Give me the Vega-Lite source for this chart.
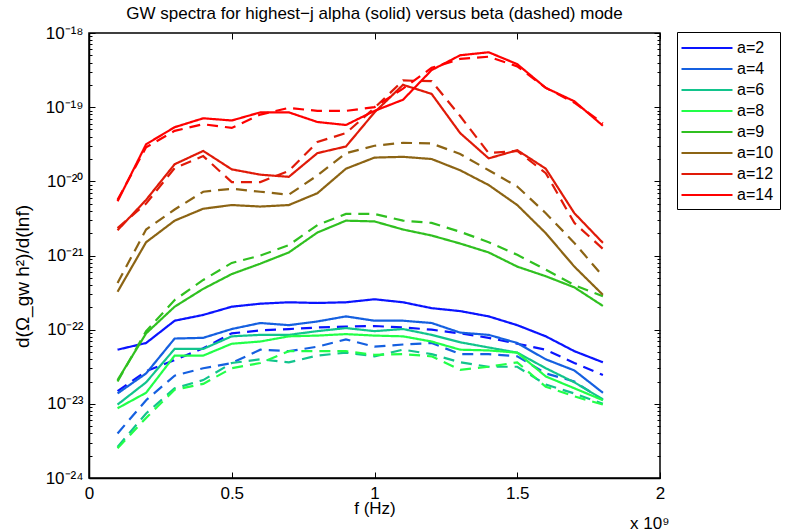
{
"$schema": "https://vega.github.io/schema/vega-lite/v6.json",
"width": 571, "height": 445,
"autosize": "none",
"padding": {"left": 89, "top": 33, "right": 129, "bottom": 53},
"background": "white",
"title": {"text": "GW spectra for highest−j alpha (solid) versus beta (dashed) mode", "fontSize": 17, "fontWeight": "normal", "font": "Liberation Sans", "color": "black", "anchor": "middle", "offset": 1},
"config": {
  "font": "Liberation Sans",
  "view": {"stroke": "black", "strokeWidth": 1.5},
  "axis": {"grid": false, "tickColor": "black", "domainColor": "black", "labelColor": "black", "titleColor": "black", "labelFont": "Liberation Sans", "titleFont": "Liberation Sans", "labelFontSize": 17, "titleFontSize": 17, "titleFontWeight": "normal", "tickWidth": 1, "domainWidth": 1.5}
},
"data": {"values": [
{"a":"a=2","m":"alpha","f":1e8,"v":5.37e-23},{"a":"a=2","m":"alpha","f":2e8,"v":6.61e-23},{"a":"a=2","m":"alpha","f":3e8,"v":1.32e-22},{"a":"a=2","m":"alpha","f":4e8,"v":1.58e-22},{"a":"a=2","m":"alpha","f":5e8,"v":2.04e-22},{"a":"a=2","m":"alpha","f":6e8,"v":2.24e-22},{"a":"a=2","m":"alpha","f":7e8,"v":2.34e-22},{"a":"a=2","m":"alpha","f":8e8,"v":2.29e-22},{"a":"a=2","m":"alpha","f":9e8,"v":2.34e-22},{"a":"a=2","m":"alpha","f":1e9,"v":2.57e-22},{"a":"a=2","m":"alpha","f":1.1e9,"v":2.34e-22},{"a":"a=2","m":"alpha","f":1.2e9,"v":1.95e-22},{"a":"a=2","m":"alpha","f":1.3e9,"v":1.78e-22},{"a":"a=2","m":"alpha","f":1.4e9,"v":1.51e-22},{"a":"a=2","m":"alpha","f":1.5e9,"v":1.15e-22},{"a":"a=2","m":"alpha","f":1.6e9,"v":8.13e-23},{"a":"a=2","m":"alpha","f":1.7e9,"v":5.13e-23},{"a":"a=2","m":"alpha","f":1.8e9,"v":3.63e-23},
{"a":"a=2","m":"beta","f":1e8,"v":1.48e-23},{"a":"a=2","m":"beta","f":2e8,"v":2.75e-23},{"a":"a=2","m":"beta","f":3e8,"v":3.89e-23},{"a":"a=2","m":"beta","f":4e8,"v":5.62e-23},{"a":"a=2","m":"beta","f":5e8,"v":8.91e-23},{"a":"a=2","m":"beta","f":6e8,"v":9.77e-23},{"a":"a=2","m":"beta","f":7e8,"v":1.02e-22},{"a":"a=2","m":"beta","f":8e8,"v":1.07e-22},{"a":"a=2","m":"beta","f":9e8,"v":1.10e-22},{"a":"a=2","m":"beta","f":1e9,"v":1.12e-22},{"a":"a=2","m":"beta","f":1.1e9,"v":1.07e-22},{"a":"a=2","m":"beta","f":1.2e9,"v":1.00e-22},{"a":"a=2","m":"beta","f":1.3e9,"v":8.91e-23},{"a":"a=2","m":"beta","f":1.4e9,"v":7.76e-23},{"a":"a=2","m":"beta","f":1.5e9,"v":6.46e-23},{"a":"a=2","m":"beta","f":1.6e9,"v":5.37e-23},{"a":"a=2","m":"beta","f":1.7e9,"v":3.55e-23},{"a":"a=2","m":"beta","f":1.8e9,"v":2.45e-23},
{"a":"a=4","m":"alpha","f":1e8,"v":1.38e-23},{"a":"a=4","m":"alpha","f":2e8,"v":2.57e-23},{"a":"a=4","m":"alpha","f":3e8,"v":7.59e-23},{"a":"a=4","m":"alpha","f":4e8,"v":7.76e-23},{"a":"a=4","m":"alpha","f":5e8,"v":1.02e-22},{"a":"a=4","m":"alpha","f":6e8,"v":1.23e-22},{"a":"a=4","m":"alpha","f":7e8,"v":1.15e-22},{"a":"a=4","m":"alpha","f":8e8,"v":1.29e-22},{"a":"a=4","m":"alpha","f":9e8,"v":1.51e-22},{"a":"a=4","m":"alpha","f":1e9,"v":1.32e-22},{"a":"a=4","m":"alpha","f":1.1e9,"v":1.32e-22},{"a":"a=4","m":"alpha","f":1.2e9,"v":1.23e-22},{"a":"a=4","m":"alpha","f":1.3e9,"v":9.12e-23},{"a":"a=4","m":"alpha","f":1.4e9,"v":8.51e-23},{"a":"a=4","m":"alpha","f":1.5e9,"v":6.61e-23},{"a":"a=4","m":"alpha","f":1.6e9,"v":3.98e-23},{"a":"a=4","m":"alpha","f":1.7e9,"v":2.82e-23},{"a":"a=4","m":"alpha","f":1.8e9,"v":1.41e-23},
{"a":"a=4","m":"beta","f":1e8,"v":3.98e-24},{"a":"a=4","m":"beta","f":2e8,"v":1.12e-23},{"a":"a=4","m":"beta","f":3e8,"v":2.40e-23},{"a":"a=4","m":"beta","f":4e8,"v":3.02e-23},{"a":"a=4","m":"beta","f":5e8,"v":3.55e-23},{"a":"a=4","m":"beta","f":6e8,"v":5.37e-23},{"a":"a=4","m":"beta","f":7e8,"v":5.13e-23},{"a":"a=4","m":"beta","f":8e8,"v":5.89e-23},{"a":"a=4","m":"beta","f":9e8,"v":7.41e-23},{"a":"a=4","m":"beta","f":1e9,"v":5.89e-23},{"a":"a=4","m":"beta","f":1.1e9,"v":6.31e-23},{"a":"a=4","m":"beta","f":1.2e9,"v":6.61e-23},{"a":"a=4","m":"beta","f":1.3e9,"v":4.68e-23},{"a":"a=4","m":"beta","f":1.4e9,"v":4.68e-23},{"a":"a=4","m":"beta","f":1.5e9,"v":4.37e-23},{"a":"a=4","m":"beta","f":1.6e9,"v":2.57e-23},{"a":"a=4","m":"beta","f":1.7e9,"v":2.00e-23},{"a":"a=4","m":"beta","f":1.8e9,"v":1.12e-23},
{"a":"a=6","m":"alpha","f":1e8,"v":9.77e-24},{"a":"a=6","m":"alpha","f":2e8,"v":1.95e-23},{"a":"a=6","m":"alpha","f":3e8,"v":5.50e-23},{"a":"a=6","m":"alpha","f":4e8,"v":5.50e-23},{"a":"a=6","m":"alpha","f":5e8,"v":8.13e-23},{"a":"a=6","m":"alpha","f":6e8,"v":8.51e-23},{"a":"a=6","m":"alpha","f":7e8,"v":8.51e-23},{"a":"a=6","m":"alpha","f":8e8,"v":9.55e-23},{"a":"a=6","m":"alpha","f":9e8,"v":1.05e-22},{"a":"a=6","m":"alpha","f":1e9,"v":9.55e-23},{"a":"a=6","m":"alpha","f":1.1e9,"v":1.02e-22},{"a":"a=6","m":"alpha","f":1.2e9,"v":8.51e-23},{"a":"a=6","m":"alpha","f":1.3e9,"v":6.76e-23},{"a":"a=6","m":"alpha","f":1.4e9,"v":5.75e-23},{"a":"a=6","m":"alpha","f":1.5e9,"v":4.90e-23},{"a":"a=6","m":"alpha","f":1.6e9,"v":3.02e-23},{"a":"a=6","m":"alpha","f":1.7e9,"v":1.95e-23},{"a":"a=6","m":"alpha","f":1.8e9,"v":1.15e-23},
{"a":"a=6","m":"beta","f":1e8,"v":2.63e-24},{"a":"a=6","m":"beta","f":2e8,"v":7.41e-24},{"a":"a=6","m":"beta","f":3e8,"v":1.62e-23},{"a":"a=6","m":"beta","f":4e8,"v":2.09e-23},{"a":"a=6","m":"beta","f":5e8,"v":3.55e-23},{"a":"a=6","m":"beta","f":6e8,"v":3.98e-23},{"a":"a=6","m":"beta","f":7e8,"v":3.63e-23},{"a":"a=6","m":"beta","f":8e8,"v":4.47e-23},{"a":"a=6","m":"beta","f":9e8,"v":4.90e-23},{"a":"a=6","m":"beta","f":1e9,"v":4.37e-23},{"a":"a=6","m":"beta","f":1.1e9,"v":5.37e-23},{"a":"a=6","m":"beta","f":1.2e9,"v":4.68e-23},{"a":"a=6","m":"beta","f":1.3e9,"v":3.63e-23},{"a":"a=6","m":"beta","f":1.4e9,"v":3.16e-23},{"a":"a=6","m":"beta","f":1.5e9,"v":3.16e-23},{"a":"a=6","m":"beta","f":1.6e9,"v":1.82e-23},{"a":"a=6","m":"beta","f":1.7e9,"v":1.38e-23},{"a":"a=6","m":"beta","f":1.8e9,"v":1.00e-23},
{"a":"a=8","m":"alpha","f":1e8,"v":8.71e-24},{"a":"a=8","m":"alpha","f":2e8,"v":1.41e-23},{"a":"a=8","m":"alpha","f":3e8,"v":4.47e-23},{"a":"a=8","m":"alpha","f":4e8,"v":4.47e-23},{"a":"a=8","m":"alpha","f":5e8,"v":6.46e-23},{"a":"a=8","m":"alpha","f":6e8,"v":6.92e-23},{"a":"a=8","m":"alpha","f":7e8,"v":8.13e-23},{"a":"a=8","m":"alpha","f":8e8,"v":8.32e-23},{"a":"a=8","m":"alpha","f":9e8,"v":8.71e-23},{"a":"a=8","m":"alpha","f":1e9,"v":8.32e-23},{"a":"a=8","m":"alpha","f":1.1e9,"v":8.13e-23},{"a":"a=8","m":"alpha","f":1.2e9,"v":6.92e-23},{"a":"a=8","m":"alpha","f":1.3e9,"v":5.37e-23},{"a":"a=8","m":"alpha","f":1.4e9,"v":5.25e-23},{"a":"a=8","m":"alpha","f":1.5e9,"v":4.90e-23},{"a":"a=8","m":"alpha","f":1.6e9,"v":2.34e-23},{"a":"a=8","m":"alpha","f":1.7e9,"v":1.62e-23},{"a":"a=8","m":"alpha","f":1.8e9,"v":1.12e-23},
{"a":"a=8","m":"beta","f":1e8,"v":2.51e-24},{"a":"a=8","m":"beta","f":2e8,"v":6.46e-24},{"a":"a=8","m":"beta","f":3e8,"v":1.55e-23},{"a":"a=8","m":"beta","f":4e8,"v":1.86e-23},{"a":"a=8","m":"beta","f":5e8,"v":3.02e-23},{"a":"a=8","m":"beta","f":6e8,"v":3.55e-23},{"a":"a=8","m":"beta","f":7e8,"v":5.13e-23},{"a":"a=8","m":"beta","f":8e8,"v":5.13e-23},{"a":"a=8","m":"beta","f":9e8,"v":5.13e-23},{"a":"a=8","m":"beta","f":1e9,"v":4.57e-23},{"a":"a=8","m":"beta","f":1.1e9,"v":4.68e-23},{"a":"a=8","m":"beta","f":1.2e9,"v":4.37e-23},{"a":"a=8","m":"beta","f":1.3e9,"v":2.88e-23},{"a":"a=8","m":"beta","f":1.4e9,"v":3.16e-23},{"a":"a=8","m":"beta","f":1.5e9,"v":3.63e-23},{"a":"a=8","m":"beta","f":1.6e9,"v":1.70e-23},{"a":"a=8","m":"beta","f":1.7e9,"v":1.26e-23},{"a":"a=8","m":"beta","f":1.8e9,"v":9.77e-24},
{"a":"a=9","m":"alpha","f":1e8,"v":2.09e-23},{"a":"a=9","m":"alpha","f":2e8,"v":8.91e-23},{"a":"a=9","m":"alpha","f":3e8,"v":2.04e-22},{"a":"a=9","m":"alpha","f":4e8,"v":3.55e-22},{"a":"a=9","m":"alpha","f":5e8,"v":5.62e-22},{"a":"a=9","m":"alpha","f":6e8,"v":7.76e-22},{"a":"a=9","m":"alpha","f":7e8,"v":1.10e-21},{"a":"a=9","m":"alpha","f":8e8,"v":2.04e-21},{"a":"a=9","m":"alpha","f":9e8,"v":2.95e-21},{"a":"a=9","m":"alpha","f":1e9,"v":2.88e-21},{"a":"a=9","m":"alpha","f":1.1e9,"v":2.24e-21},{"a":"a=9","m":"alpha","f":1.2e9,"v":1.86e-21},{"a":"a=9","m":"alpha","f":1.3e9,"v":1.45e-21},{"a":"a=9","m":"alpha","f":1.4e9,"v":1.10e-21},{"a":"a=9","m":"alpha","f":1.5e9,"v":7.08e-22},{"a":"a=9","m":"alpha","f":1.6e9,"v":5.25e-22},{"a":"a=9","m":"alpha","f":1.7e9,"v":3.72e-22},{"a":"a=9","m":"alpha","f":1.8e9,"v":2.09e-22},
{"a":"a=9","m":"beta","f":1e8,"v":2.00e-23},{"a":"a=9","m":"beta","f":2e8,"v":9.55e-23},{"a":"a=9","m":"beta","f":3e8,"v":2.51e-22},{"a":"a=9","m":"beta","f":4e8,"v":4.68e-22},{"a":"a=9","m":"beta","f":5e8,"v":7.94e-22},{"a":"a=9","m":"beta","f":6e8,"v":1.00e-21},{"a":"a=9","m":"beta","f":7e8,"v":1.38e-21},{"a":"a=9","m":"beta","f":8e8,"v":2.57e-21},{"a":"a=9","m":"beta","f":9e8,"v":3.63e-21},{"a":"a=9","m":"beta","f":1e9,"v":3.63e-21},{"a":"a=9","m":"beta","f":1.1e9,"v":2.95e-21},{"a":"a=9","m":"beta","f":1.2e9,"v":2.75e-21},{"a":"a=9","m":"beta","f":1.3e9,"v":2.09e-21},{"a":"a=9","m":"beta","f":1.4e9,"v":1.51e-21},{"a":"a=9","m":"beta","f":1.5e9,"v":1.02e-21},{"a":"a=9","m":"beta","f":1.6e9,"v":6.46e-22},{"a":"a=9","m":"beta","f":1.7e9,"v":3.98e-22},{"a":"a=9","m":"beta","f":1.8e9,"v":2.82e-22},
{"a":"a=10","m":"alpha","f":1e8,"v":3.24e-22},{"a":"a=10","m":"alpha","f":2e8,"v":1.51e-21},{"a":"a=10","m":"alpha","f":3e8,"v":2.95e-21},{"a":"a=10","m":"alpha","f":4e8,"v":4.27e-21},{"a":"a=10","m":"alpha","f":5e8,"v":4.79e-21},{"a":"a=10","m":"alpha","f":6e8,"v":4.57e-21},{"a":"a=10","m":"alpha","f":7e8,"v":4.79e-21},{"a":"a=10","m":"alpha","f":8e8,"v":6.92e-21},{"a":"a=10","m":"alpha","f":9e8,"v":1.48e-20},{"a":"a=10","m":"alpha","f":1e9,"v":2.09e-20},{"a":"a=10","m":"alpha","f":1.1e9,"v":2.14e-20},{"a":"a=10","m":"alpha","f":1.2e9,"v":2.00e-20},{"a":"a=10","m":"alpha","f":1.3e9,"v":1.41e-20},{"a":"a=10","m":"alpha","f":1.4e9,"v":8.91e-21},{"a":"a=10","m":"alpha","f":1.5e9,"v":4.79e-21},{"a":"a=10","m":"alpha","f":1.6e9,"v":2.00e-21},{"a":"a=10","m":"alpha","f":1.7e9,"v":7.08e-22},{"a":"a=10","m":"alpha","f":1.8e9,"v":2.95e-22},
{"a":"a=10","m":"beta","f":1e8,"v":4.27e-22},{"a":"a=10","m":"beta","f":2e8,"v":2.24e-21},{"a":"a=10","m":"beta","f":3e8,"v":4.17e-21},{"a":"a=10","m":"beta","f":4e8,"v":7.24e-21},{"a":"a=10","m":"beta","f":5e8,"v":7.94e-21},{"a":"a=10","m":"beta","f":6e8,"v":7.24e-21},{"a":"a=10","m":"beta","f":7e8,"v":6.61e-21},{"a":"a=10","m":"beta","f":8e8,"v":1.20e-20},{"a":"a=10","m":"beta","f":9e8,"v":2.40e-20},{"a":"a=10","m":"beta","f":1e9,"v":3.02e-20},{"a":"a=10","m":"beta","f":1.1e9,"v":3.31e-20},{"a":"a=10","m":"beta","f":1.2e9,"v":3.24e-20},{"a":"a=10","m":"beta","f":1.3e9,"v":2.34e-20},{"a":"a=10","m":"beta","f":1.4e9,"v":1.41e-20},{"a":"a=10","m":"beta","f":1.5e9,"v":8.51e-21},{"a":"a=10","m":"beta","f":1.6e9,"v":3.72e-21},{"a":"a=10","m":"beta","f":1.7e9,"v":1.48e-21},{"a":"a=10","m":"beta","f":1.8e9,"v":5.25e-22},
{"a":"a=12","m":"alpha","f":1e8,"v":2.19e-21},{"a":"a=12","m":"alpha","f":2e8,"v":5.62e-21},{"a":"a=12","m":"alpha","f":3e8,"v":1.70e-20},{"a":"a=12","m":"alpha","f":4e8,"v":2.57e-20},{"a":"a=12","m":"alpha","f":5e8,"v":1.45e-20},{"a":"a=12","m":"alpha","f":6e8,"v":1.23e-20},{"a":"a=12","m":"alpha","f":7e8,"v":1.15e-20},{"a":"a=12","m":"alpha","f":8e8,"v":2.40e-20},{"a":"a=12","m":"alpha","f":9e8,"v":2.95e-20},{"a":"a=12","m":"alpha","f":1e9,"v":8.51e-20},{"a":"a=12","m":"alpha","f":1.1e9,"v":2.00e-19},{"a":"a=12","m":"alpha","f":1.2e9,"v":1.51e-19},{"a":"a=12","m":"alpha","f":1.3e9,"v":4.47e-20},{"a":"a=12","m":"alpha","f":1.4e9,"v":2.04e-20},{"a":"a=12","m":"alpha","f":1.5e9,"v":2.63e-20},{"a":"a=12","m":"alpha","f":1.6e9,"v":1.48e-20},{"a":"a=12","m":"alpha","f":1.7e9,"v":3.72e-21},{"a":"a=12","m":"alpha","f":1.8e9,"v":1.48e-21},
{"a":"a=12","m":"beta","f":1e8,"v":2.34e-21},{"a":"a=12","m":"beta","f":2e8,"v":5.01e-21},{"a":"a=12","m":"beta","f":3e8,"v":1.51e-20},{"a":"a=12","m":"beta","f":4e8,"v":2.19e-20},{"a":"a=12","m":"beta","f":5e8,"v":9.77e-21},{"a":"a=12","m":"beta","f":6e8,"v":9.77e-21},{"a":"a=12","m":"beta","f":7e8,"v":1.38e-20},{"a":"a=12","m":"beta","f":8e8,"v":3.39e-20},{"a":"a=12","m":"beta","f":9e8,"v":4.47e-20},{"a":"a=12","m":"beta","f":1e9,"v":9.77e-20},{"a":"a=12","m":"beta","f":1.1e9,"v":2.29e-19},{"a":"a=12","m":"beta","f":1.2e9,"v":2.24e-19},{"a":"a=12","m":"beta","f":1.3e9,"v":7.59e-20},{"a":"a=12","m":"beta","f":1.4e9,"v":2.40e-20},{"a":"a=12","m":"beta","f":1.5e9,"v":2.57e-20},{"a":"a=12","m":"beta","f":1.6e9,"v":1.29e-20},{"a":"a=12","m":"beta","f":1.7e9,"v":2.75e-21},{"a":"a=12","m":"beta","f":1.8e9,"v":1.23e-21},
{"a":"a=14","m":"alpha","f":1e8,"v":5.37e-21},{"a":"a=14","m":"alpha","f":2e8,"v":3.16e-20},{"a":"a=14","m":"alpha","f":3e8,"v":5.37e-20},{"a":"a=14","m":"alpha","f":4e8,"v":7.08e-20},{"a":"a=14","m":"alpha","f":5e8,"v":6.61e-20},{"a":"a=14","m":"alpha","f":6e8,"v":8.51e-20},{"a":"a=14","m":"alpha","f":7e8,"v":8.51e-20},{"a":"a=14","m":"alpha","f":8e8,"v":6.31e-20},{"a":"a=14","m":"alpha","f":9e8,"v":5.75e-20},{"a":"a=14","m":"alpha","f":1e9,"v":8.91e-20},{"a":"a=14","m":"alpha","f":1.1e9,"v":1.26e-19},{"a":"a=14","m":"alpha","f":1.2e9,"v":3.16e-19},{"a":"a=14","m":"alpha","f":1.3e9,"v":5.01e-19},{"a":"a=14","m":"alpha","f":1.4e9,"v":5.50e-19},{"a":"a=14","m":"alpha","f":1.5e9,"v":3.80e-19},{"a":"a=14","m":"alpha","f":1.6e9,"v":1.82e-19},{"a":"a=14","m":"alpha","f":1.7e9,"v":1.20e-19},{"a":"a=14","m":"alpha","f":1.8e9,"v":5.62e-20},
{"a":"a=14","m":"beta","f":1e8,"v":5.62e-21},{"a":"a=14","m":"beta","f":2e8,"v":2.88e-20},{"a":"a=14","m":"beta","f":3e8,"v":4.79e-20},{"a":"a=14","m":"beta","f":4e8,"v":5.89e-20},{"a":"a=14","m":"beta","f":5e8,"v":5.25e-20},{"a":"a=14","m":"beta","f":6e8,"v":7.94e-20},{"a":"a=14","m":"beta","f":7e8,"v":9.77e-20},{"a":"a=14","m":"beta","f":8e8,"v":8.91e-20},{"a":"a=14","m":"beta","f":9e8,"v":8.91e-20},{"a":"a=14","m":"beta","f":1e9,"v":1.00e-19},{"a":"a=14","m":"beta","f":1.1e9,"v":1.78e-19},{"a":"a=14","m":"beta","f":1.2e9,"v":3.39e-19},{"a":"a=14","m":"beta","f":1.3e9,"v":4.47e-19},{"a":"a=14","m":"beta","f":1.4e9,"v":4.79e-19},{"a":"a=14","m":"beta","f":1.5e9,"v":3.55e-19},{"a":"a=14","m":"beta","f":1.6e9,"v":1.82e-19},{"a":"a=14","m":"beta","f":1.7e9,"v":1.15e-19},{"a":"a=14","m":"beta","f":1.8e9,"v":6.03e-20}
]},
"resolve": {"axis": {"x": "independent", "y": "independent"}},
"layer": [
{
  "mark": {"type": "line", "strokeWidth": 2.2, "clip": true},
  "encoding": {
    "x": {"field": "f", "type": "quantitative", "scale": {"domain": [0, 2000000000], "nice": false, "zero": false},
      "axis": {"orient": "bottom", "values": [0, 500000000, 1000000000, 1500000000, 2000000000], "labelExpr": "'' + (datum.value / 1000000000)", "tickSize": -6, "labelPadding": 13, "labelFlush": false, "labelOverlap": false, "title": "f (Hz)", "titleY": 35, "titleBaseline": "alphabetic"}},
    "y": {"field": "v", "type": "quantitative", "scale": {"type": "log", "domain": [1e-24, 1e-18], "nice": false},
      "axis": {"orient": "left", "values": [1e-24, 1e-23, 1e-22, 1e-21, 1e-20, 1e-19, 1e-18], "labelExpr": "'10⁻' + (round(log(datum.value)/LN10) <= -20 ? '²' : '¹') + ['⁰','¹','²','³','⁴','⁵','⁶','⁷','⁸','⁹'][(-round(log(datum.value)/LN10)) % 10]", "tickSize": -6, "labelPadding": 12, "labelFlush": false, "labelOverlap": false, "title": "d(Ω_gw h²)/d(lnf)", "titleFontSize": 19, "titleX": -67, "titleY": 243, "titleAngle": -90, "titleAlign": "center", "titleBaseline": "middle"}},
    "color": {"field": "a", "type": "nominal",
      "scale": {"domain": ["a=2", "a=4", "a=6", "a=8", "a=9", "a=10", "a=12", "a=14"], "range": ["#0a14ff", "#1560e0", "#12c48c", "#22ff48", "#30c020", "#8c6414", "#e01a08", "#ff0000"]},
      "legend": {"orient": "none", "legendX": 588, "legendY": -1, "title": null, "symbolType": "M-3,0H3", "symbolSize": 289, "symbolStrokeWidth": 2.2, "symbolOffset": 14, "labelOffset": 20, "labelFontSize": 16, "labelFont": "Liberation Sans", "labelColor": "black", "labelLimit": 200, "rowPadding": 3, "padding": 6, "strokeColor": "black", "fillColor": "white"}},
    "strokeDash": {"field": "m", "type": "nominal", "scale": {"domain": ["alpha", "beta"], "range": [[1, 0], [11, 7]]}, "legend": null}
  }
},
{
  "mark": {"type": "point", "opacity": 0},
  "encoding": {
    "x": {"field": "f", "type": "quantitative", "axis": {"orient": "top", "values": [0, 500000000, 1000000000, 1500000000, 2000000000], "tickSize": -6, "labels": false, "domain": false, "title": null}},
    "y": {"field": "v", "type": "quantitative", "axis": {"orient": "right", "values": [1e-24, 1e-23, 1e-22, 1e-21, 1e-20, 1e-19, 1e-18], "tickSize": -6, "labels": false, "domain": false, "title": null}}
  }
},
{
  "mark": {"type": "point", "opacity": 0},
  "encoding": {
    "x": {"field": "f", "type": "quantitative", "axis": {"orient": "bottom", "ticks": false, "labels": false, "domain": false, "title": "x 10⁹", "titleX": 580, "titleY": 50, "titleAlign": "right", "titleBaseline": "alphabetic"}},
    "y": {"field": "v", "type": "quantitative", "axis": {"orient": "left", "values": [2e-24,3e-24,4e-24,5e-24,6e-24,7e-24,8e-24,9e-24,2e-23,3e-23,4e-23,5e-23,6e-23,7e-23,8e-23,9e-23,2e-22,3e-22,4e-22,5e-22,6e-22,7e-22,8e-22,9e-22,2e-21,3e-21,4e-21,5e-21,6e-21,7e-21,8e-21,9e-21,2e-20,3e-20,4e-20,5e-20,6e-20,7e-20,8e-20,9e-20,2e-19,3e-19,4e-19,5e-19,6e-19,7e-19,8e-19,9e-19], "tickSize": -3, "labels": false, "domain": false, "title": null}}
  }
},
{
  "mark": {"type": "point", "opacity": 0},
  "encoding": {
    "x": {"field": "f", "type": "quantitative", "axis": null},
    "y": {"field": "v", "type": "quantitative", "axis": {"orient": "right", "values": [2e-24,3e-24,4e-24,5e-24,6e-24,7e-24,8e-24,9e-24,2e-23,3e-23,4e-23,5e-23,6e-23,7e-23,8e-23,9e-23,2e-22,3e-22,4e-22,5e-22,6e-22,7e-22,8e-22,9e-22,2e-21,3e-21,4e-21,5e-21,6e-21,7e-21,8e-21,9e-21,2e-20,3e-20,4e-20,5e-20,6e-20,7e-20,8e-20,9e-20,2e-19,3e-19,4e-19,5e-19,6e-19,7e-19,8e-19,9e-19], "tickSize": -3, "labels": false, "domain": false, "title": null}}
  }
}
]
}
